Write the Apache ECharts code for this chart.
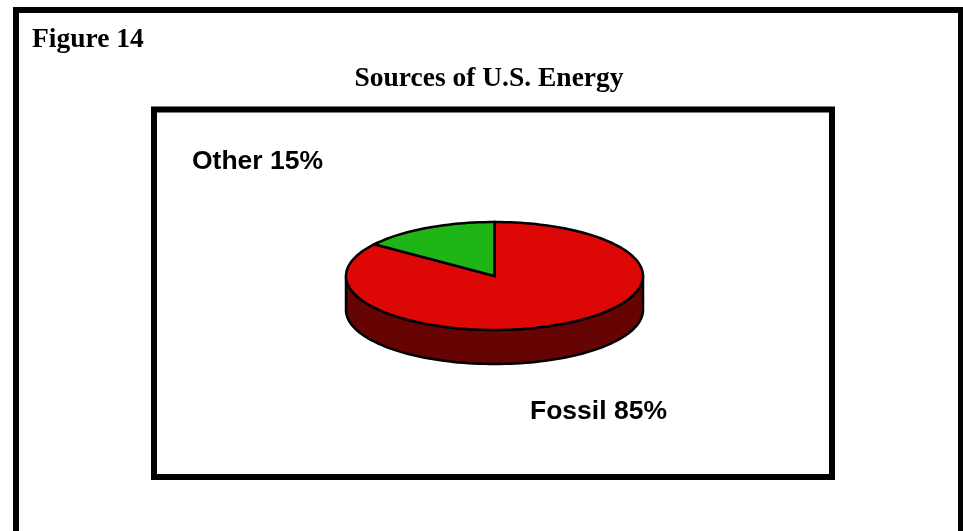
<!DOCTYPE html>
<html>
<head>
<meta charset="utf-8">
<script src="https://cdn.jsdelivr.net/npm/echarts@6/dist/echarts.min.js"></script>
<style>
  html, body { margin: 0; padding: 0; background: #fff; }
  #chart { width: 963px; height: 531px; }
</style>
</head>
<body>
<div id="chart"></div>
<script>
// Energy source shares, in percent
const categories = ['Fossil', 'Other'];
const shares = [85, 15];

// Slice colours: top face and side wall
const topColors = ['#dd0806', '#1fb517'];
const sideColors = ['#650403', '#0e5a0a'];

// Pie geometry (an ellipse tilted towards the viewer)
const pie = { cx: 494.5, cy: 276, rx: 148.5, ry: 54, depth: 34 };

// Where each slice's caption sits
const labelAnchors = [
  { x: 530, y: 412 },   // Fossil
  { x: 192, y: 162 }    // Other
];

const total = shares.reduce((a, b) => a + b, 0);
const cumulative = shares.map((_, i) => shares.slice(0, i).reduce((a, b) => a + b, 0));

function pt(deg, dy) {
  const r = deg * Math.PI / 180;
  return [pie.cx + pie.rx * Math.cos(r), pie.cy - pie.ry * Math.sin(r) + (dy || 0)];
}

function arc(from, to, dy) {
  const n = Math.max(2, Math.ceil(Math.abs(to - from) / 2));
  const pts = [];
  for (let i = 0; i <= n; i++) pts.push(pt(from + (to - from) * i / n, dy));
  return pts;
}

function renderItem(params, api) {
  const i = params.dataIndex;
  const value = api.value(0);
  // clockwise from twelve o'clock
  const a0 = 90 - 360 * cumulative[i] / total;
  const a1 = a0 - 360 * value / total;
  const children = [];

  // front-facing part of the side wall (angles where sin < 0)
  for (let k = -2; k <= 1; k++) {
    const lo = Math.max(a1, 180 + 360 * k);
    const hi = Math.min(a0, 360 + 360 * k);
    if (hi > lo) {
      const top = arc(lo, hi, 0);
      const bottom = arc(hi, lo, pie.depth);
      children.push({
        type: 'polygon',
        z2: 1,
        shape: { points: top.concat(bottom) },
        style: { fill: sideColors[i], stroke: '#000', lineWidth: 2.5, lineJoin: 'round' }
      });
    }
  }

  // top face
  children.push({
    type: 'polygon',
    z2: 10,
    shape: { points: [[pie.cx, pie.cy]].concat(arc(a0, a1, 0)) },
    style: { fill: topColors[i], stroke: '#000', lineWidth: 2.5, lineJoin: 'miter' }
  });

  // caption
  children.push({
    type: 'text',
    z2: 20,
    style: {
      text: categories[i] + ' ' + value + '%',
      x: labelAnchors[i].x,
      y: labelAnchors[i].y,
      fill: '#000',
      font: 'bold 26.5px "Liberation Sans", Arial, sans-serif',
      textAlign: 'left',
      textVerticalAlign: 'middle'
    }
  });

  return { type: 'group', children: children };
}

const chart = echarts.init(document.getElementById('chart'), null, { renderer: 'canvas' });
chart.setOption({
  backgroundColor: '#ffffff',
  animation: false,
  graphic: [
    {
      type: 'rect', z: 0,
      shape: { x: 16, y: 10, width: 945, height: 600 },
      style: { fill: 'none', stroke: '#000', lineWidth: 6 }
    },
    {
      type: 'rect', z: 0,
      shape: { x: 154, y: 109.5, width: 678, height: 367.5 },
      style: { fill: 'none', stroke: '#000', lineWidth: 6 }
    },
    {
      type: 'text', z: 5,
      style: {
        text: 'Figure 14', x: 32, y: 40,
        fill: '#000', font: 'bold 27.5px "Liberation Serif", "Times New Roman", serif',
        textAlign: 'left', textVerticalAlign: 'middle'
      }
    },
    {
      type: 'text', z: 5,
      style: {
        text: 'Sources of U.S. Energy', x: 489, y: 79,
        fill: '#000', font: 'bold 27.5px "Liberation Serif", "Times New Roman", serif',
        textAlign: 'center', textVerticalAlign: 'middle'
      }
    }
  ],
  series: [{
    type: 'custom',
    coordinateSystem: 'none',
    renderItem: renderItem,
    data: shares.map((v, i) => ({ name: categories[i], value: [v] }))
  }]
});
</script>
</body>
</html>
